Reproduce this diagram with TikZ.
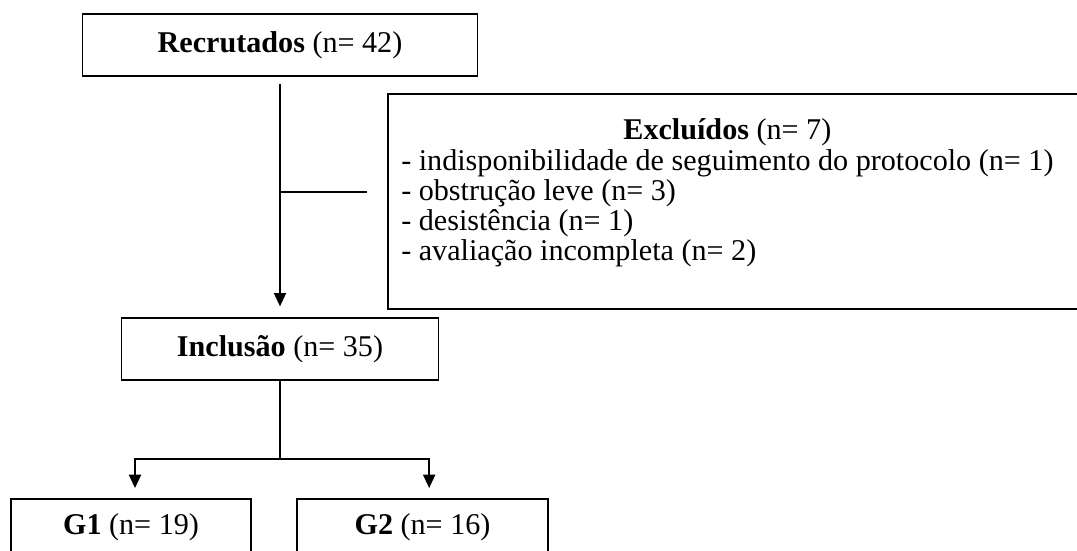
\documentclass[tikz,border=0pt]{standalone}
\usepackage{fontspec}
\setmainfont{Liberation Serif}
\usepackage{tikz}
\usetikzlibrary{arrows.meta, positioning, calc}
\tikzstyle{box} = [rectangle, draw=black, line width=1.4pt, inner sep=0pt, text centered]
\tikzstyle{item} = [anchor=base west, inner sep=0pt]
\tikzstyle{line} = [line width=1.4pt]
\tikzstyle{arrow} = [line width=1.4pt, -{Triangle[width=9pt,length=10pt]}]

\begin{document}
\begin{tikzpicture}[x=0.75pt, y=-0.75pt, font=\fontsize{22.6}{22.7}\selectfont]
  \clip (0,0) rectangle (1077,550);

  \node[box, minimum width=296.25pt, minimum height=46.5pt] (rec) at (280,45) {\textbf{Recrutados} (n= 42)};
  \node[box, anchor=north west, minimum width=540pt, minimum height=161.25pt] (excl) at (387,93) {};
  \node[box, minimum width=237.75pt, minimum height=46.5pt] (inc) at (280,349) {\textbf{Inclusão} (n= 35)};
  \node[box, minimum width=180pt, minimum height=42pt] (g1) at (131,527) {\textbf{G1} (n= 19)};
  \node[box, minimum width=188.25pt, minimum height=42pt] (g2) at (422.5,527) {\textbf{G2} (n= 16)};

  % motivos de exclusao
  \node[item] (excl1) at (401,170) {- indisponibilidade de seguimento do protocolo (n= 1)};
  \node[item] (excl2) at ([yshift=-22.7pt]excl1.base west) {- obstrução leve (n= 3)};
  \node[item] (excl3) at ([yshift=-22.7pt]excl2.base west) {- desistência (n= 1)};
  \node[item] (excl4) at ([yshift=-22.7pt]excl3.base west) {- avaliação incompleta (n= 2)};
  \node[anchor=base, inner sep=0pt] (exclhead) at ([yshift=22.7pt]excl1.base) {\textbf{Excluídos} (n= 7)};

  % fluxo principal
  \coordinate (splitA) at (rec.south |- 0,192);
  \coordinate (exclin) at (367,192);
  \draw[arrow, shorten <=5pt, shorten >=8pt] (rec.south) -- (inc.north);
  \draw[line] (splitA) -- (exclin);

  % divisao em grupos
  \coordinate (splitB) at (inc.south |- 0,459);
  \draw[line] (inc.south) -- (splitB);
  \draw[arrow, shorten >=7.5pt] (splitB) -| ([xshift=3pt]g1.north);
  \draw[arrow, shorten >=7.5pt] (splitB) -| ([xshift=5pt]g2.north);
\end{tikzpicture}
\end{document}
